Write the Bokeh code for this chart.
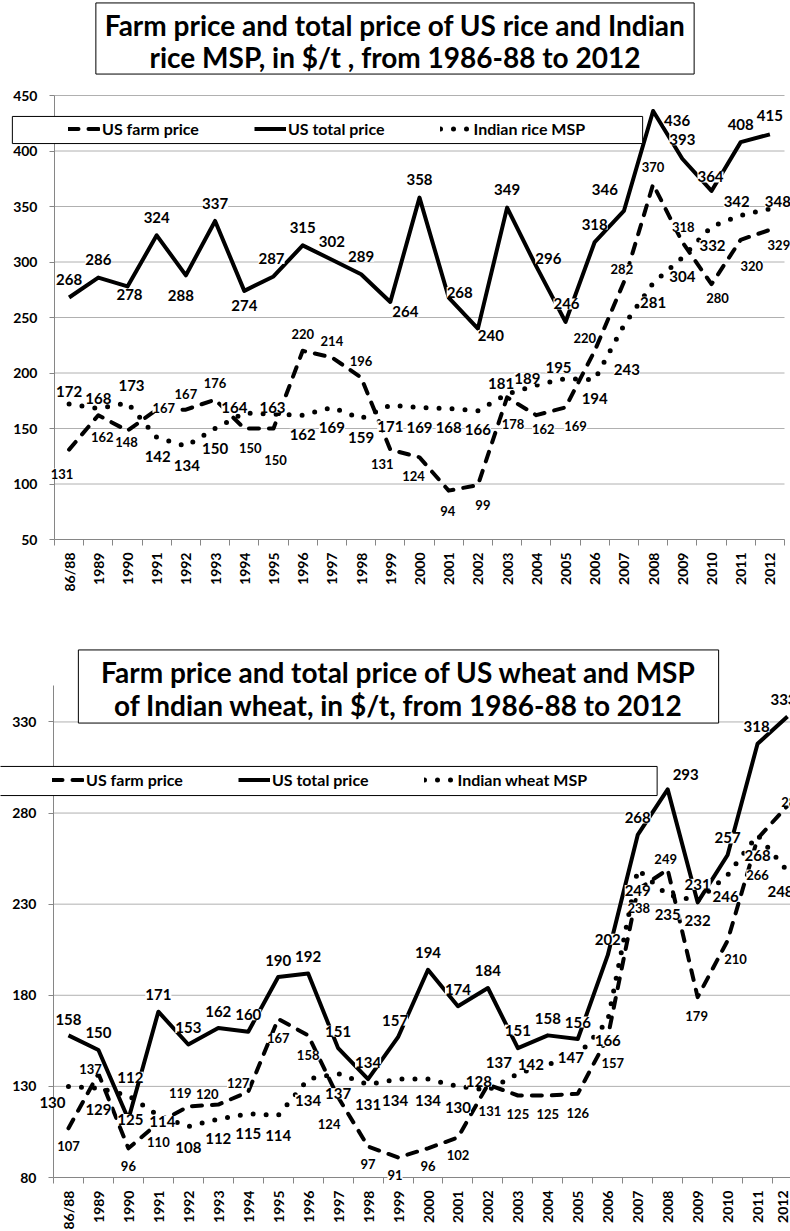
import numpy as np
from bokeh.plotting import figure
from bokeh.layouts import column
from bokeh.models import ColumnDataSource, FixedTicker, Label, LabelSet, Legend, LegendItem, Range1d
from bokeh.embed import file_html
from bokeh.resources import INLINE
from bokeh.core.properties import value

FONT = "Lato"

categories = ["86/88"] + [str(y) for y in range(1989, 2013)]

# ---- Rice, $/t ----
rice_farm = [131, 162, 148, 167, 167, 176, 150, 150, 220, 214, 196, 131, 124, 94, 99,
             178, 162, 169, 220, 282, 370, 318, 280, 320, 329]
rice_total = [268, 286, 278, 324, 288, 337, 274, 287, 315, 302, 289, 264, 358, 268, 240,
              349, 296, 246, 318, 346, 436, 393, 364, 408, 415]
rice_msp = [172, 168, 173, 142, 134, 150, 164, 163, 162, 169, 159, 171, 169, 168, 166,
            181, 189, 195, 194, 243, 281, 304, 332, 342, 348]

# ---- Wheat, $/t ----
wheat_farm = [107, 137, 96, 110, 119, 120, 127, 167, 158, 124, 97, 91, 96, 102, 131,
              125, 125, 126, 157, 238, 249, 179, 210, 266, 284]
wheat_total = [158, 150, 112, 171, 153, 162, 160, 190, 192, 151, 134, 157, 194, 174, 184,
               151, 158, 156, 202, 268, 293, 231, 257, 318, 333]
wheat_msp = [130, 129, 125, 114, 108, 112, 115, 114, 134, 137, 131, 134, 134, 130, 128,
             137, 142, 147, 166, 249, 235, 232, 246, 268, 248]

rice_y_ticks = [50, 100, 150, 200, 250, 300, 350, 400, 450]
wheat_y_ticks = [80, 130, 180, 230, 280, 330]

rice_title = ["Farm price and total price of US rice and Indian",
              "rice MSP, in $/t , from 1986-88 to 2012"]
wheat_title = ["Farm price and total price of US wheat and MSP",
               "of Indian wheat, in $/t, from 1986-88 to 2012"]
series_names_rice = ["US farm price", "US total price", "Indian rice MSP"]
series_names_wheat = ["US farm price", "US total price", "Indian wheat MSP"]

# ---- label placement (pixel offsets from each point, +dy = downwards; styling only) ----
rf_dx = [-7, 4, -1, 7, 0, 0, 6, 2, 0, 0, 0, -8, -6, -1, 5, 6, 7, 10, -10, -2, 0, 1, 6, 11, 9]
rf_dy = [24, 22, 11, -2, -16, -17, 19, 31, -17, -16, -16, 14, 19, 20, 20, 27, 14, 19, -13, -13, -17, -15, 14, 26, 15]
rt_dx = [0, 0, 2, 0, -5, 0, 0, -2, 0, 0, 0, 15, 0, 11, 13, 0, 12, 1, 0, -19, 24, 0, -1, 0, 0]
rt_dy = [-18, -18, 8, -18, 20, -17, 15, -18, -18, -18, -18, 10, -18, -5, 7, -18, -8, -18, -18, -21, 9, -19, -14, -18, -19]
rm_dx = [0, 0, 4, 1, 1, 0, -10, -1, 0, 0, 0, 0, 0, 0, 0, -6, -9, -7, 0, 3, 0, 0, 1, -4, 8]
rm_dy = [-13, -10, -17, 19, 19, 20, -5, -7, 19, 20, 19, 21, 20, 19, 19, -11, -7, -11, 19, 44, 19, 19, 19, -14, -7]

wf_dx = [0, -8, 0, 0, -8, -11, -10, 0, 0, -9, 0, -3, 0, 0, 2, 0, 0, 0, 5, 1, -2, -1, 8, 0, 5]
wf_dy = [18, -5, 18, 19, -13, -11, -9, 19, 20, 27, 17, 18, 18, 18, 26, 18, 18, 19, 26, 18, -11, 19, 18, 36, -4]
wt_dx = [0, 0, 2, 0, 0, 0, 0, 0, 0, 0, 0, -3, 0, 0, 0, 0, 0, 0, 0, 0, 18, 0, 0, -1, -4]
wt_dy = [-16, -17, -42, -17, -17, -17, -17, -17, -17, -17, -17, -17, -17, -17, -17, -18, -17, -17, -16, -17, -15, -18, -17, -17, -17]
wm_dx = [-16, 0, 2, 4, 0, 0, 0, 0, 0, 0, 0, -3, 0, 0, -9, -19, -17, -7, 0, 0, 0, 0, -2, 0, -7]
wm_dy = [16, 21, 24, 6, 21, 19, 20, 20, 21, 20, 20, 21, 21, 21, -9, -11, 0, 2, 20, 21, 19, 20, 21, 21, 20]

GRID = "#b0b0b0"
AXIS = "#868686"
W = 790


def make_chart(height, ax_x, ax_top, ax_bottom, cat_px, y_lo, y_hi, y_ticks,
               farm, total, msp, offs, names, title_lines, title_y, title_box, legend_box, leg_loc):
    """The frame covers the whole canvas; axes are pinned with fixed_location.
    ax_x: pixel x of the value axis, ax_top/ax_bottom: pixel y of y_hi/y_lo, cat_px: px per category."""
    n = len(categories)
    ppu = (ax_bottom - ax_top) / (y_hi - y_lo)
    x0 = -0.5 - ax_x / cat_px
    x1 = -0.5 + (W - ax_x) / cat_px
    yb = y_lo - (height - ax_bottom) / ppu
    yt = y_hi + ax_top / ppu
    p = figure(width=W, height=height, x_range=Range1d(x0, x1), y_range=Range1d(yb, yt),
               output_backend="svg", toolbar_location=None, min_border=0,
               min_border_left=0, min_border_right=0, min_border_top=0, min_border_bottom=0,
               outline_line_color=None, background_fill_color="white", border_fill_color="white")
    xs = list(range(n))

    # gridlines (bounded to the plot area)
    gl = y_ticks[1:]
    p.segment(x0=[-0.5] * len(gl), x1=[n - 0.5] * len(gl), y0=gl, y1=gl,
              line_color=GRID, line_width=1)
    p.xgrid.visible = False
    p.ygrid.visible = False

    # axes
    p.xaxis.fixed_location = y_lo
    p.xaxis.bounds = (-0.5, n - 0.5)
    p.xaxis.ticker = FixedTicker(ticks=xs, minor_ticks=[i - 0.5 for i in range(n + 1)])
    p.xaxis.major_label_overrides = {i: c for i, c in enumerate(categories)}
    p.xaxis.major_label_orientation = np.pi / 2
    p.xaxis.major_tick_line_color = None
    p.xaxis.major_tick_out = 6
    p.xaxis.major_tick_in = 0
    p.xaxis.minor_tick_out = 6
    p.xaxis.minor_tick_in = 0
    p.xaxis.minor_tick_line_color = AXIS
    p.xaxis.axis_line_color = AXIS
    p.xaxis.major_label_standoff = 7

    p.yaxis.fixed_location = -0.5
    p.yaxis.bounds = (y_lo, y_hi)
    p.yaxis.ticker = FixedTicker(ticks=y_ticks, minor_ticks=[])
    p.yaxis.major_tick_out = 5
    p.yaxis.major_tick_in = 0
    p.yaxis.major_tick_line_color = AXIS
    p.yaxis.axis_line_color = AXIS
    p.yaxis.major_label_standoff = 12
    for ax in (p.xaxis, p.yaxis):
        ax.major_label_text_font = FONT
        ax.major_label_text_font_style = "bold"
        ax.major_label_text_font_size = "14px"
        ax.major_label_text_color = "black"

    # series lines
    r_farm = p.line(xs, farm, line_color="black", line_width=4, line_dash="10 10",
                    line_cap="round", line_join="round")
    r_total = p.line(xs, total, line_color="black", line_width=4, line_join="round")
    r_msp = p.line(xs, msp, line_color="black", line_width=5, line_dash="0 13", line_cap="round")

    # data labels (drawn over all lines)
    for vals, (dx, dy), size in zip((farm, total, msp), offs, ("13px", "15px", "15px")):
        src = ColumnDataSource(dict(x=xs, y=vals, t=[str(v) for v in vals],
                                    dx=dx, ndy=[-d for d in dy]))
        p.add_layout(LabelSet(x="x", y="y", text="t", x_offset="dx", y_offset="ndy", source=src,
                              text_font=value(FONT), text_font_style="bold", text_font_size=size,
                              text_color="black", text_align="center", text_baseline="middle",
                              background_fill_color="white"))

    # title box + two lines
    (bx, by), (hw, hh) = title_box
    p.add_layout(Label(x=bx, y=height - by, x_units="screen", y_units="screen",
                       text=" ", text_font_size="1px", text_align="center", text_baseline="middle",
                       background_fill_color="white", border_line_color="black", border_line_width=1,
                       padding=dict(left=hw, right=hw, top=hh, bottom=hh)))
    for line_text, ly in zip(title_lines, title_y):
        p.add_layout(Label(x=bx, y=height - ly, x_units="screen", y_units="screen",
                           text=line_text, text_font=FONT, text_font_style="bold",
                           text_font_size="28px", text_align="center", text_baseline="middle",
                           text_color="black"))

    # legend box + legend
    (lx, ly), (lhw, lhh) = legend_box
    p.add_layout(Label(x=lx, y=height - ly, x_units="screen", y_units="screen",
                       text=" ", text_font_size="1px", text_align="center", text_baseline="middle",
                       background_fill_color="white", border_line_color="black", border_line_width=1,
                       padding=dict(left=lhw, right=lhw, top=lhh, bottom=lhh)))
    legend = Legend(items=[LegendItem(label=names[0], renderers=[r_farm]),
                           LegendItem(label=names[1], renderers=[r_total]),
                           LegendItem(label=names[2], renderers=[r_msp])],
                    orientation="horizontal", location=(leg_loc[0], height - leg_loc[1]),
                    glyph_width=32, glyph_height=17, label_height=17, label_standoff=2,
                    spacing=55, padding=0, margin=0, border_line_color=None,
                    background_fill_alpha=0, label_text_font=FONT, label_text_font_style="bold",
                    label_text_font_size="16px", label_text_color="black")
    p.add_layout(legend)
    return p


H1 = 644
rice = make_chart(H1, 54, 95, 539, 29.2, 50, 450, rice_y_ticks,
                  rice_farm, rice_total, rice_msp,
                  ((rf_dx, rf_dy), (rt_dx, rt_dy), (rm_dx, rm_dy)), series_names_rice,
                  rice_title, (24, 56), ((394.5, 38), (299, 35)),
                  ((327, 129.5), (315, 13)), (68, 138))
H2 = 1231 - H1
wheat = make_chart(H2, 53, 685 - H1, 1177 - H1, 29.96, 80, 350, wheat_y_ticks,
                   wheat_farm, wheat_total, wheat_msp,
                   ((wf_dx, wf_dy), (wt_dx, wt_dy), (wm_dx, wm_dy)), series_names_wheat,
                   wheat_title, (671 - H1, 704 - H1), ((398, 686 - H1), (320, 36)),
                   ((326.5, 780.5 - H1), (330, 14)), (52, 789 - H1))

layout = column(rice, wheat, spacing=0)
open("out.html", "w").write(file_html(layout, INLINE))
